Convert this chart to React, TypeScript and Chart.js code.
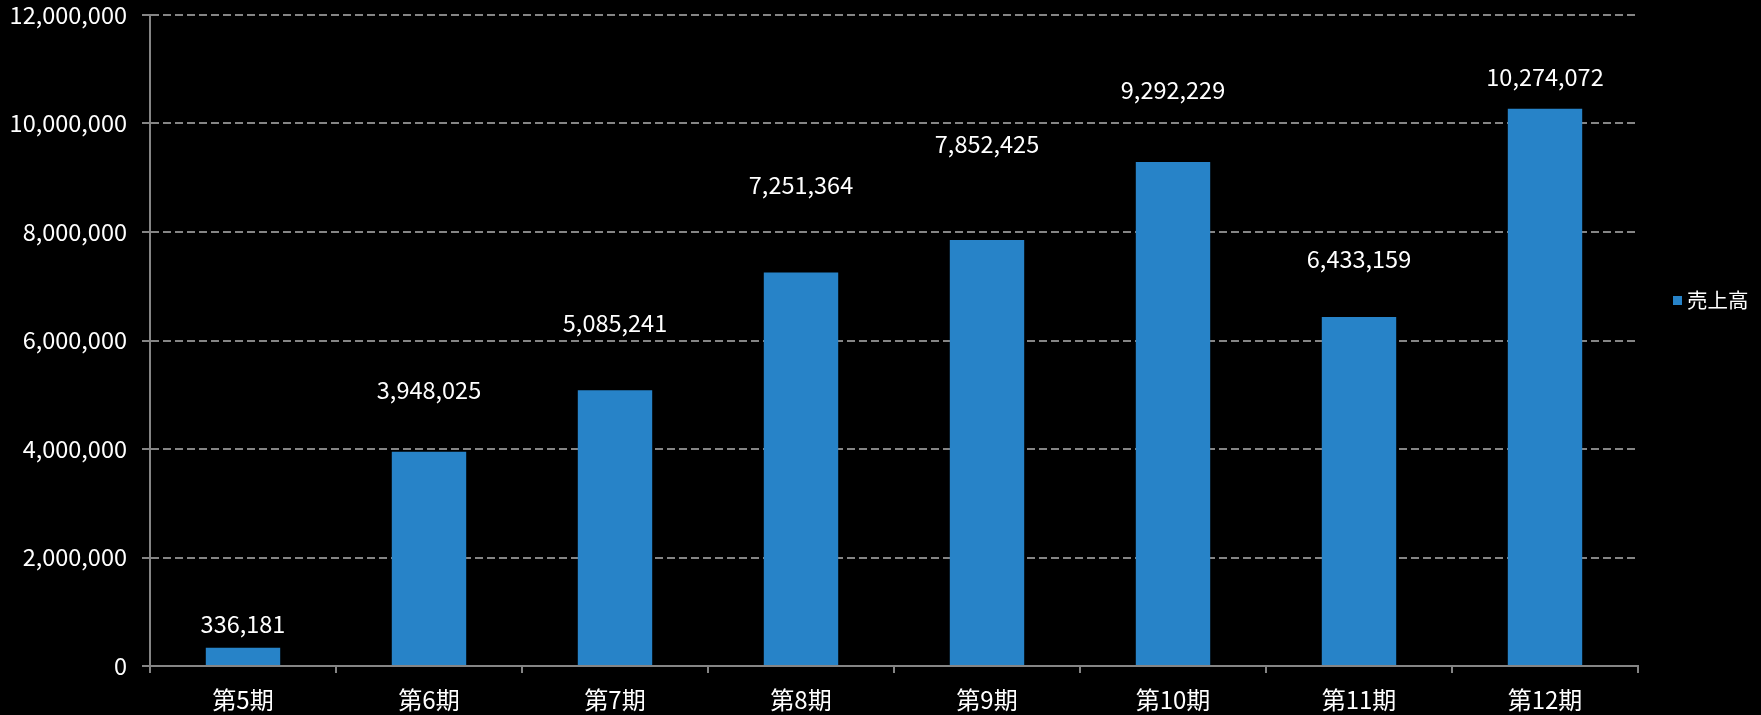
import React, { useEffect, useRef } from "react";
import { Chart, registerables } from "chart.js";

Chart.register(...registerables);

const categories = ["第5期", "第6期", "第7期", "第8期", "第9期", "第10期", "第11期", "第12期"];
const salesValues = [336181, 3948025, 5085241, 7251364, 7852425, 9292229, 6433159, 10274072];
const seriesName = "売上高";
const yMax = 12000000;
const yStep = 2000000;
// vertical distance (px) of each value label above its bar top
const labelLift = [24, 62, 67, 88, 96, 72, 58, 32];

const FONT = "'Noto Sans CJK JP', 'Noto Sans', sans-serif";
const BAR_COLOR = "#2783C8";
const GRID_COLOR = "#858585";

const fmt = (v: number) => v.toLocaleString("en-US");

const valueLabelPlugin = {
  id: "valueLabels",
  afterDatasetsDraw(chart: any) {
    const ctx = chart.ctx;
    const meta = chart.getDatasetMeta(0);
    ctx.save();
    ctx.font = `23.5px ${FONT}`;
    ctx.fillStyle = "#ffffff";
    ctx.textAlign = "center";
    ctx.textBaseline = "middle";
    meta.data.forEach((bar: any, i: number) => {
      ctx.fillText(fmt(salesValues[i]), bar.x, bar.y - labelLift[i]);
    });
    ctx.restore();
  },
};

const legendPlugin = {
  id: "sideLegend",
  afterDraw(chart: any) {
    const ctx = chart.ctx;
    const x = chart.chartArea.right + 35;
    const y = 300;
    ctx.save();
    ctx.fillStyle = BAR_COLOR;
    ctx.fillRect(x, y - 4, 9, 9);
    ctx.font = `20.5px ${FONT}`;
    ctx.fillStyle = "#ffffff";
    ctx.textAlign = "left";
    ctx.textBaseline = "middle";
    ctx.fillText(seriesName, x + 14, y);
    ctx.restore();
  },
};

export default function App() {
  const ref = useRef<HTMLCanvasElement | null>(null);

  useEffect(() => {
    document.body.style.margin = "0";
    document.body.style.background = "#000";
    const canvas = ref.current;
    if (!canvas) return;
    const chart = new Chart(canvas, {
      type: "bar",
      data: {
        labels: categories,
        datasets: [
          {
            label: seriesName,
            data: salesValues,
            backgroundColor: BAR_COLOR,
            borderWidth: 0,
            categoryPercentage: 1,
            barPercentage: 0.4,
          },
        ],
      },
      options: {
        responsive: false,
        animation: false,
        devicePixelRatio: 1,
        layout: { padding: { top: 15, right: 123, bottom: 0, left: 0 } },
        plugins: {
          legend: { display: false },
          tooltip: { enabled: false },
        },
        scales: {
          x: {
            offset: true,
            afterFit(scale: any) {
              scale.height = 49;
            },
            grid: {
              offset: true,
              drawOnChartArea: false,
              drawTicks: true,
              tickLength: 7,
              color: GRID_COLOR,
              lineWidth: 2,
            },
            border: { display: true, color: GRID_COLOR, width: 2 },
            ticks: {
              color: "#ffffff",
              font: { family: FONT, size: 24 },
              padding: 12,
              maxRotation: 0,
            },
          },
          y: {
            min: 0,
            max: yMax,
            afterFit(scale: any) {
              scale.width = 150;
              scale.paddingTop = 0;
              scale.paddingBottom = 0;
            },
            grid: {
              color: GRID_COLOR,
              lineWidth: 2,
              tickLength: 8,
              drawTicks: true,
            },
            border: { display: true, color: GRID_COLOR, width: 2, dash: [8, 4] },
            ticks: {
              stepSize: yStep,
              color: "#ffffff",
              font: { family: FONT, size: 23.5 },
              padding: 15,
              callback: (v: any) => fmt(Number(v)),
            },
          },
        },
      },
      plugins: [valueLabelPlugin, legendPlugin],
    });
    return () => chart.destroy();
  }, []);

  return (
    <div style={{ width: 1761, height: 715, background: "#000" }}>
      <canvas ref={ref} width={1761} height={715} style={{ display: "block" }} />
    </div>
  );
}
